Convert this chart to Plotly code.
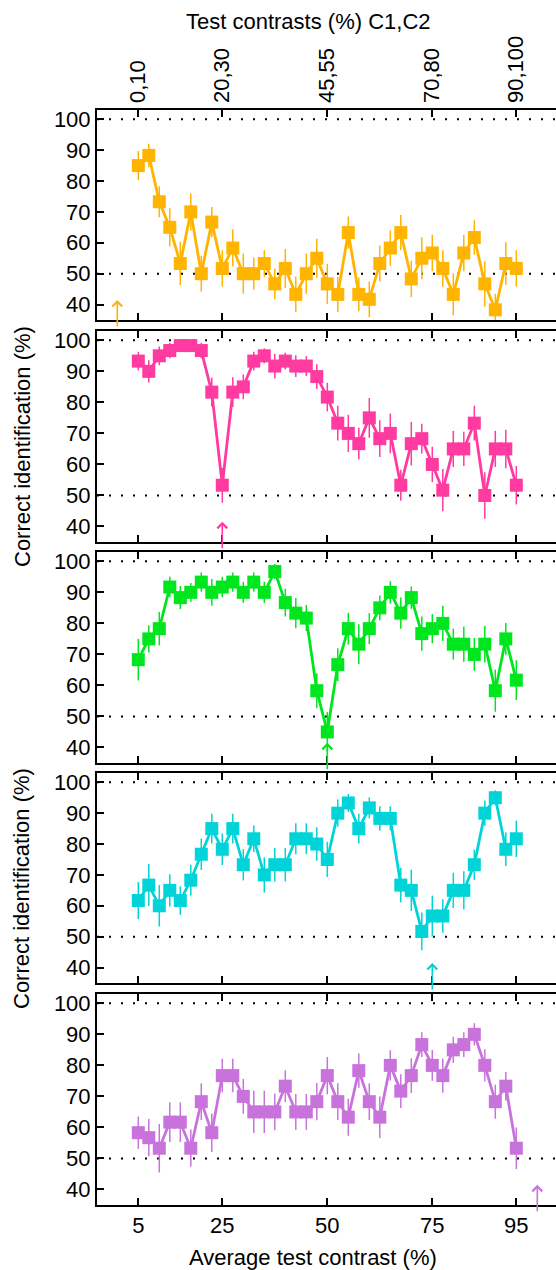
import plotly.graph_objects as go

# ---------------- data ----------------
contrast = [5, 7.5, 10, 12.5, 15, 17.5, 20, 22.5, 25, 27.5, 30, 32.5, 35, 37.5, 40, 42.5,
            45, 47.5, 50, 52.5, 55, 57.5, 60, 62.5, 65, 67.5, 70, 72.5, 75, 77.5, 80,
            82.5, 85, 87.5, 90, 92.5, 95]

acc1 = [85.0, 88.3, 73.3, 65.0, 53.3, 70.0, 50.0, 66.7, 51.7, 58.3, 50.0, 50.0, 53.3, 46.7,
        51.7, 43.3, 50.0, 55.0, 46.7,
        43.3, 63.3, 43.3, 41.7, 53.3, 58.3, 63.3, 48.3, 55.0, 56.7, 51.7, 43.3, 56.7, 61.7,
        46.7, 38.3, 53.3, 51.7]
err1 = [4.7, 3.8, 5.0, 6.2, 7.0, 6.0, 5.8, 4.9, 5.9, 6.0, 6.5, 5.2, 4.3, 5.0, 6.3, 5.8, 6.5,
        6.3, 6.5,
        5.7, 5.2, 5.5, 5.8, 5.8, 5.7, 5.7, 5.9, 6.8, 5.9, 5.9, 6.8, 5.9, 5.6, 7.3, 5.2, 6.9, 5.9]

acc2 = [93.3, 90.0, 95.0, 96.7, 98.3, 98.3, 96.7, 83.3, 53.3, 83.3, 85.0, 93.3, 95.0, 91.7,
        93.3, 91.7, 91.7, 88.3, 81.7,
        73.3, 70.0, 66.7, 75.0, 68.3, 70.0, 53.3, 66.7, 68.3, 60.0, 51.7, 65.0, 65.0, 73.3,
        50.0, 65.0, 65.0, 53.3]
err2 = [3.0, 3.6, 3.0, 2.5, 1.5, 1.5, 2.5, 4.6, 5.6, 4.8, 4.0, 3.0, 2.4, 4.0, 2.7, 3.5, 3.2,
        4.0, 4.6,
        5.6, 6.0, 5.1, 6.4, 5.9, 6.4, 5.0, 7.0, 4.8, 5.7, 6.8, 5.8, 5.5, 5.6, 7.5, 5.8, 6.2, 6.2]

acc3 = [68.3, 75.0, 78.3, 91.7, 88.3, 90.0, 93.3, 90.0, 91.7, 93.3, 90.0, 93.3, 90.0, 96.7,
        86.7, 83.3, 81.7, 58.3, 45.0,
        66.7, 78.3, 73.3, 78.3, 85.0, 90.0, 83.3, 88.3, 76.7, 78.3, 80.0, 73.3, 73.3, 70.0,
        73.3, 58.3, 75.0, 61.7]
err3 = [6.7, 4.4, 5.4, 3.3, 3.7, 3.0, 3.1, 4.3, 3.3, 3.1, 3.4, 3.1, 3.4, 2.4, 4.5, 4.9, 4.2,
        5.6, 6.4,
        5.3, 5.1, 6.4, 5.0, 4.0, 3.6, 5.0, 3.6, 5.5, 4.7, 5.7, 5.0, 5.7, 5.3, 5.9, 6.8, 5.1, 6.4]

acc4 = [61.7, 66.7, 60.0, 65.0, 61.7, 68.3, 76.7, 85.0, 78.3, 85.0, 73.3, 81.7, 70.0, 73.3,
        73.3, 81.7, 81.7, 80.0, 75.0,
        90.0, 93.3, 85.0, 91.7, 88.3, 88.3, 66.7, 65.0, 51.7, 56.7, 56.7, 65.0, 65.0, 73.3,
        90.0, 95.0, 78.3, 81.7]
err4 = [6.0, 6.8, 6.7, 5.2, 4.6, 5.0, 5.1, 4.8, 5.1, 4.8, 5.1, 4.3, 5.7, 5.4, 5.4, 5.0, 5.0,
        5.4, 5.7,
        4.4, 2.9, 4.8, 3.4, 3.9, 3.9, 5.6, 6.7, 6.1, 6.6, 5.4, 5.7, 6.2, 4.9, 4.1, 2.4, 5.4, 5.9]

acc5 = [58.3, 56.7, 53.3, 61.7, 61.7, 53.3, 68.3, 58.3, 76.7, 76.7, 70.0, 65.0, 65.0, 65.0,
        73.3, 65.0, 65.0, 68.3, 76.7,
        68.3, 63.3, 78.3, 68.3, 63.3, 80.0, 71.7, 76.7, 86.7, 80.0, 76.7, 85.0, 86.7, 90.0,
        80.0, 68.3, 73.3, 53.3]
err5 = [5.2, 6.0, 7.8, 6.4, 6.4, 6.0, 5.9, 6.2, 5.4, 5.4, 5.6, 6.8, 6.8, 5.9, 5.1, 5.8, 5.8,
        6.0, 6.0,
        5.9, 6.0, 5.5, 5.9, 6.7, 4.9, 5.4, 5.6, 4.0, 5.0, 5.5, 4.2, 4.0, 3.6, 5.2, 5.5, 4.6, 6.7]

arrow_x = [0, 25, 50, 75, 100]          # marked contrast for each panel
colors = ["#FFB400", "#FF3AA0", "#00E61E", "#00D4D9", "#C873DC"]

bottom_ticks = [5, 25, 50, 75, 95]
bottom_labels = ["5", "25", "50", "75", "95"]
top_labels = ["0,10", "20,30", "45,55", "70,80", "90,100"]
y_ticks = [40, 50, 60, 70, 80, 90, 100]
ref_lines = [100, 50]

# ---------------- layout geometry ----------------
W, H = 556, 1270
ML, MR, MT, MB = 97, 0, 110, 65
plot_h = H - MT - MB
panels_px = [(110, 320), (331, 542), (552, 763), (773, 983), (994, 1205)]


def py(px):
    return (H - MB - px) / plot_h


def px_x(px):
    return (px - ML) / (W - ML - MR)


FONT = "Liberation Sans, Arial, Helvetica, sans-serif"
FS = 22
XR = [-4.83, 104.45]
YR = [35, 103]

accs = [acc1, acc2, acc3, acc4, acc5]
errs = [err1, err2, err3, err4, err5]

fig = go.Figure()
for i in range(5):
    fig.add_trace(go.Scatter(
        x=contrast, y=accs[i],
        mode="lines+markers",
        line=dict(color=colors[i], width=2.8),
        marker=dict(symbol="square", size=13, color=colors[i], line=dict(width=0)),
        error_y=dict(type="data", array=errs[i], color=colors[i], thickness=1.5, width=0),
        xaxis="x" if i == 0 else f"x{i+1}",
        yaxis="y" if i == 0 else f"y{i+1}",
        showlegend=False, hoverinfo="skip",
    ))

# dummy trace for the top axis
fig.add_trace(go.Scatter(x=[], y=[], xaxis="x6", yaxis="y", showlegend=False, hoverinfo="skip"))

layout = dict(
    width=W, height=H,
    margin=dict(l=ML, r=MR, t=MT, b=MB, pad=0),
    paper_bgcolor="white", plot_bgcolor="white",
    font=dict(family=FONT, size=FS, color="black"),
    showlegend=False,
)

for i in range(5):
    top, bot = panels_px[i]
    sx = "" if i == 0 else str(i + 1)
    layout[f"xaxis{sx}"] = dict(
        domain=[0, 1], anchor=f"y{sx}", range=XR,
        tickvals=bottom_ticks, ticktext=bottom_labels,
        showticklabels=(i == 4),
        ticks="inside", ticklen=7, tickwidth=1.5, tickcolor="black",
        showline=True, linewidth=2, linecolor="black", mirror="ticks",
        showgrid=False, zeroline=False,
        tickfont=dict(size=FS),
    )
    layout[f"yaxis{sx}"] = dict(
        domain=[py(bot), py(top)], anchor=f"x{sx}", range=YR,
        tickvals=y_ticks,
        ticks="inside", ticklen=7, tickwidth=1.5, tickcolor="black",
        showline=True, linewidth=2, linecolor="black", mirror=False,
        showgrid=False, zeroline=False,
        tickfont=dict(size=FS),
    )

layout["xaxis6"] = dict(
    overlaying="x", side="top", anchor="y", range=XR,
    tickvals=bottom_ticks, ticktext=top_labels, tickangle=-90,
    ticks="", showline=False, showgrid=False, zeroline=False,
    ticklabelstandoff=6,
    tickfont=dict(size=FS),
)

fig.update_layout(**layout)

# dotted reference lines
for i in range(5):
    sy = "y" if i == 0 else f"y{i+1}"
    for v in ref_lines:
        fig.add_shape(type="line", xref="paper", x0=0, x1=1, yref=sy, y0=v, y1=v,
                      line=dict(color="black", width=2, dash="2px,10px"), layer="below")

# arrows marking the target contrast
for i in range(5):
    sx = "x" if i == 0 else f"x{i+1}"
    sy = "y" if i == 0 else f"y{i+1}"
    fig.add_annotation(x=arrow_x[i], y=41.5, xref=sx, yref=sy, text="",
                       showarrow=True, ax=0, ay=28, arrowhead=4, arrowsize=1.2,
                       arrowwidth=1.6, arrowcolor=colors[i])

# titles
fig.add_annotation(text="Test contrasts (%) C1,C2", xref="paper", yref="paper",
                   x=px_x(308), y=py(22), showarrow=False, yanchor="middle",
                   font=dict(size=FS))
fig.add_annotation(text="Average test contrast (%)", xref="paper", yref="paper",
                   x=px_x(313), y=py(1257), showarrow=False, yanchor="middle",
                   font=dict(size=FS))
for cy in [447, 889]:
    fig.add_annotation(text="Correct identification (%)", xref="paper", yref="paper",
                       x=px_x(22), y=py(cy), showarrow=False, textangle=-90,
                       xanchor="center", yanchor="middle", font=dict(size=FS))

fig.write_html("out.html")
